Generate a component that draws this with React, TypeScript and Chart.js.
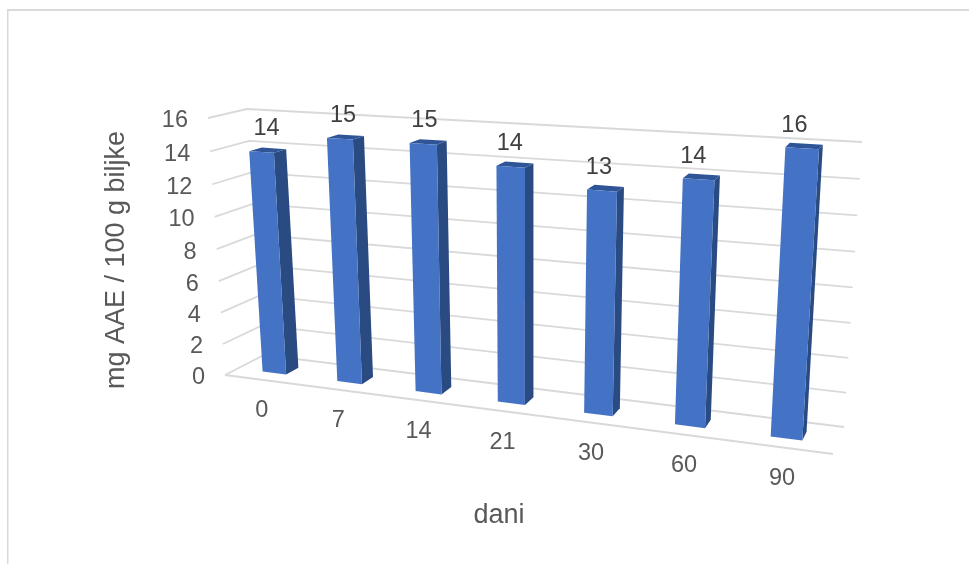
import React, { useEffect, useRef } from "react";
import { Chart, registerables } from "chart.js";

Chart.register(...registerables);

const days = ["0", "7", "14", "21", "30", "60", "90"];
const values = [13.9, 15.0, 15.0, 14.0, 13.0, 14.0, 16.0];
const yTitle = "mg AAE / 100 g biljke";
const xTitle = "dani";

const FONT = '"Liberation Sans", Arial, sans-serif';
const GRID = "#d9d9d9";
const TICK = "#595959";
const LABEL = "#404040";
const FRONT = "#4472c4";
const SIDE = "#2a4a82";
const TOP = "#2f5597";

type Pt = [number, number];
// Projected corners of the 3D plot box: [front|back][bottom|top][left|right]
const FBL: Pt = [225, 375];
const FBR: Pt = [833, 454];
const BBL: Pt = [264, 355];
const BBR: Pt = [844, 427];
const FTL: Pt = [208, 118];
const FTR: Pt = [852, 156];
const BTL: Pt = [247, 109];
const BTR: Pt = [862, 142];
const PERSP_X = 0.84;
const PERSP_Y = 0.96;
const BAR_FRONT = 1 / 3;
const BAR_BACK = 2 / 3;

const warp = (t: number, a: number) => (t * a) / (1 - t + t * a);
const mix = (a: Pt, b: Pt, t: number): Pt => [a[0] + (b[0] - a[0]) * t, a[1] + (b[1] - a[1]) * t];

// u: along the category axis, v: along the value axis, w: depth, each 0..1
function project(u: number, v: number, w: number): Pt {
  const uu = warp(u, PERSP_X);
  const vv = warp(v, PERSP_Y);
  const bottom = mix(mix(FBL, FBR, uu), mix(BBL, BBR, uu), w);
  const top = mix(mix(FTL, FTR, uu), mix(BTL, BTR, uu), w);
  return mix(bottom, top, vv);
}

function poly(ctx: CanvasRenderingContext2D, pts: Pt[], fill: string) {
  ctx.beginPath();
  pts.forEach((p, i) => (i ? ctx.lineTo(p[0], p[1]) : ctx.moveTo(p[0], p[1])));
  ctx.closePath();
  ctx.fillStyle = fill;
  ctx.fill();
}

function line(ctx: CanvasRenderingContext2D, pts: Pt[]) {
  ctx.beginPath();
  pts.forEach((p, i) => (i ? ctx.lineTo(p[0], p[1]) : ctx.moveTo(p[0], p[1])));
  ctx.stroke();
}

const perspectivePlugin = {
  id: "perspective",
  afterDatasetsDraw(chart: any) {
    const ctx: CanvasRenderingContext2D = chart.ctx;
    const area = chart.chartArea;
    const xs = chart.scales.x;
    const ys = chart.scales.y;
    const normU = (px: number) => (px - area.left) / area.width;
    const normV = (py: number) => (area.bottom - py) / area.height;

    ctx.save();
    // frame of the chart object
    ctx.fillStyle = GRID;
    ctx.fillRect(7, 9, 962, 2);
    ctx.fillRect(7, 9, 1.5, 555);

    // gridlines over side wall and back wall
    ctx.strokeStyle = GRID;
    ctx.lineWidth = 1.8;
    ys.ticks.forEach((t: any) => {
      const v = normV(ys.getPixelForValue(t.value));
      line(ctx, [project(0, v, 0), project(0, v, 1), project(1, v, 1)]);
    });
    line(ctx, [project(0, 0, 0), project(1, 0, 0)]);

    // y tick labels
    ctx.font = `23.5px ${FONT}`;
    ctx.fillStyle = TICK;
    ctx.textAlign = "right";
    ctx.textBaseline = "middle";
    ys.ticks.forEach((t: any) => {
      const v = normV(ys.getPixelForValue(t.value));
      const p = project(0, v, 0);
      ctx.fillText(String(t.value), p[0] - 20, p[1] + 3);
    });

    // bars
    const meta = chart.getDatasetMeta(0);
    meta.data.forEach((el: any, i: number) => {
      const uL = normU(el.x - el.width / 2);
      const uR = normU(el.x + el.width / 2);
      const v = normV(el.y);
      const a = BAR_FRONT;
      const b = BAR_BACK;
      poly(ctx, [project(uR, 0, a), project(uR, 0, b), project(uR, v, b), project(uR, v, a)], SIDE);
      poly(ctx, [project(uL, v, a), project(uR, v, a), project(uR, v, b), project(uL, v, b)], TOP);
      poly(ctx, [project(uL, 0, a), project(uR, 0, a), project(uR, v, a), project(uL, v, a)], FRONT);

      // value label
      const uC = normU(el.x);
      const c = project(uC, v, a);
      ctx.font = `23.5px ${FONT}`;
      ctx.fillStyle = LABEL;
      ctx.textAlign = "center";
      ctx.textBaseline = "middle";
      ctx.fillText(values[i].toFixed(0), c[0] + 6 - 15 * warp(uC, PERSP_X), c[1] - 23);

      // category label
      const f = project(uC, 0, 0);
      ctx.fillStyle = TICK;
      ctx.fillText(String(xs.getLabelForValue(i)), f[0], f[1] + 31);
    });

    // axis titles
    ctx.font = `27px ${FONT}`;
    ctx.fillStyle = TICK;
    ctx.textAlign = "center";
    ctx.textBaseline = "middle";
    ctx.fillText(xTitle, 499, 516);
    ctx.translate(117, 260);
    ctx.rotate(-Math.PI / 2);
    ctx.fillText(yTitle, 0, 0);
    ctx.restore();
  },
};

export default function App() {
  const ref = useRef<HTMLCanvasElement | null>(null);
  useEffect(() => {
    if (!ref.current) return;
    const chart = new Chart(ref.current, {
      type: "bar",
      data: {
        labels: days,
        datasets: [
          {
            label: yTitle,
            data: values,
            backgroundColor: "rgba(0,0,0,0)",
            borderWidth: 0,
            categoryPercentage: 1,
            barPercentage: 0.32,
          },
        ],
      },
      options: {
        animation: false,
        responsive: false,
        layout: { padding: 0 },
        plugins: { legend: { display: false }, tooltip: { enabled: false } },
        scales: {
          x: { type: "category", display: false },
          y: { type: "linear", display: false, min: 0, max: 16, ticks: { stepSize: 2 } },
        },
      },
      plugins: [perspectivePlugin],
    } as any);
    return () => chart.destroy();
  }, []);
  return (
    <div style={{ position: "absolute", left: 0, top: 0, width: 969, height: 564, background: "#fff", overflow: "hidden" }}>
      <canvas ref={ref} width={969} height={564} style={{ display: "block" }} />
    </div>
  );
}
